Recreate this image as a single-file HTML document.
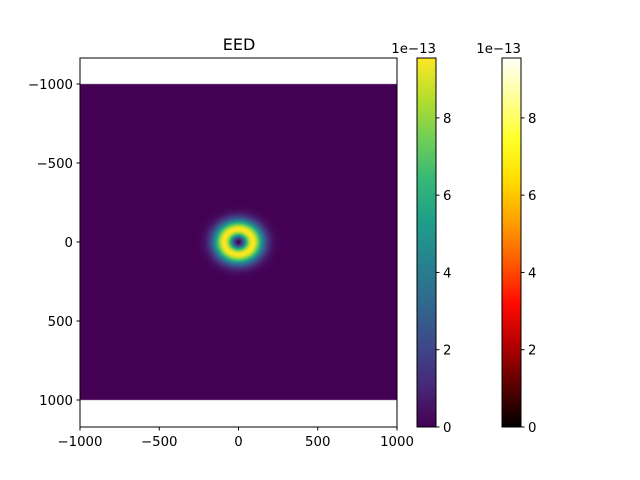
<!DOCTYPE html>
<html><head><meta charset="utf-8"><style>
body{margin:0;background:#fff;font-family:"DejaVu Sans","Liberation Sans",sans-serif;}
#wrap{position:relative;width:640px;height:480px;}
canvas,svg{position:absolute;left:0;top:0;}
</style></head><body>
<div id="wrap">
<canvas id="cv" width="640" height="480"></canvas>
<svg id="sv" width="640" height="480" font-family="DejaVu Sans, Liberation Sans, sans-serif"></svg>
</div>
<script>
const xTicks=[-1000,-500,0,500,1000];
const yTicks=[-1000,-500,0,500,1000];
const cbTicks=[0,2,4,6,8];
const ringCenter=[0,0];
const ringRadius=[90,80];
const ringPeak=[9.55];
const extent=[-1000,1000];
const title="EED";

const ax={x0:80,x1:397,y0:58,y1:427};
const xs=v=>ax.x0+(v+1000)/2000*(ax.x1-ax.x0);
const ys=v=>242+v*0.158;
const cbT=58,cbB=427,cbMax=9.55;
const cbY=v=>cbB-v/cbMax*(cbB-cbT);
const vir=[[68,1,84],[72,40,120],[62,73,137],[49,104,142],[38,130,142],[31,158,137],[53,183,121],[110,206,88],[181,222,43],[253,231,37]];
const hot=[[0,0,0],[90,0,0],[180,0,0],[255,10,0],[255,90,0],[255,160,0],[255,220,0],[255,255,40],[255,255,150],[255,255,250]];
function cmap(m,t){t=Math.max(0,Math.min(1,t))*(m.length-1);const i=Math.min(Math.floor(t),m.length-2),f=t-i;return m[i].map((c,k)=>Math.round(c+(m[i+1][k]-c)*f));}
const cv=document.getElementById('cv'),ctx=cv.getContext('2d');
const X0=Math.round(xs(extent[0])),X1=Math.round(xs(extent[1])),Y0=Math.round(ys(extent[0])),Y1=Math.round(ys(extent[1]));
const img=ctx.createImageData(X1-X0,Y1-Y0);
for(let py=Y0;py<Y1;py++)for(let px=X0;px<X1;px++){
 const dx=(px+0.5-ax.x0)/(ax.x1-ax.x0)*2000-1000-ringCenter[0];
 const dy=(py+0.5-242)/0.158-ringCenter[1];
 const r2=(dx/ringRadius[0])**2+(dy/ringRadius[1])**2;
 const v=ringPeak[0]*r2*Math.exp(1-r2);
 const c=cmap(vir,v/cbMax);const o=((py-Y0)*(X1-X0)+(px-X0))*4;
 img.data[o]=c[0];img.data[o+1]=c[1];img.data[o+2]=c[2];img.data[o+3]=255;}
ctx.putImageData(img,X0,Y0);
for(const [x,m] of [[417,vir],[502,hot]]){for(let y=cbT;y<cbB;y++){const c=cmap(m,(cbB-y-0.5)/(cbB-cbT));ctx.fillStyle=`rgb(${c})`;ctx.fillRect(x,y,19,1);}}
const sv=document.getElementById('sv');const NS='http://www.w3.org/2000/svg';
function el(t,a,txt){const e=document.createElementNS(NS,t);for(const k in a)e.setAttribute(k,a[k]);if(txt!==undefined)e.textContent=txt;sv.appendChild(e);return e;}
const fmt=v=>String(v).replace('-','\u2212');
let e=el('rect',{x:ax.x0,y:ax.y0,width:ax.x1-ax.x0,height:ax.y1-ax.y0,fill:'none',stroke:'#000','stroke-width':1});


xTicks.forEach(v=>{const x=xs(v);el('line',{x1:x,x2:x,y1:ax.y1,y2:ax.y1+3.5,stroke:'#000'});
 const t=el('text',{x:x,y:ax.y1+19,'text-anchor':'middle','font-size':'13.3px'},fmt(v));
 
 });
yTicks.forEach(v=>{const y=ys(v);el('line',{x1:ax.x0,x2:ax.x0-3.5,y1:y,y2:y,stroke:'#000'});
 const t=el('text',{x:ax.x0-7,y:y+5,'text-anchor':'end','font-size':'13.3px'},fmt(v));
 
 });
e=el('text',{x:239,y:50,'text-anchor':'middle','font-size':'16px'},title);


[[417,'viridis-colorbar'],[502,'hot-colorbar']].forEach(([x,n])=>{
 const r=el('rect',{x:x,y:cbT,width:19,height:cbB-cbT,fill:'none',stroke:'#000'});
 
 
 cbTicks.forEach(v=>{const y=cbY(v);el('line',{x1:x+19,x2:x+22.5,y1:y,y2:y,stroke:'#000'});
  const t=el('text',{x:x+26,y:y+5,'font-size':'13.3px'},String(v));
  
  });
 const o=el('text',{x:x+19,y:53,'text-anchor':'end','font-size':'13.3px'},'1e\u221213');
 
 });
</script>
</body></html>
